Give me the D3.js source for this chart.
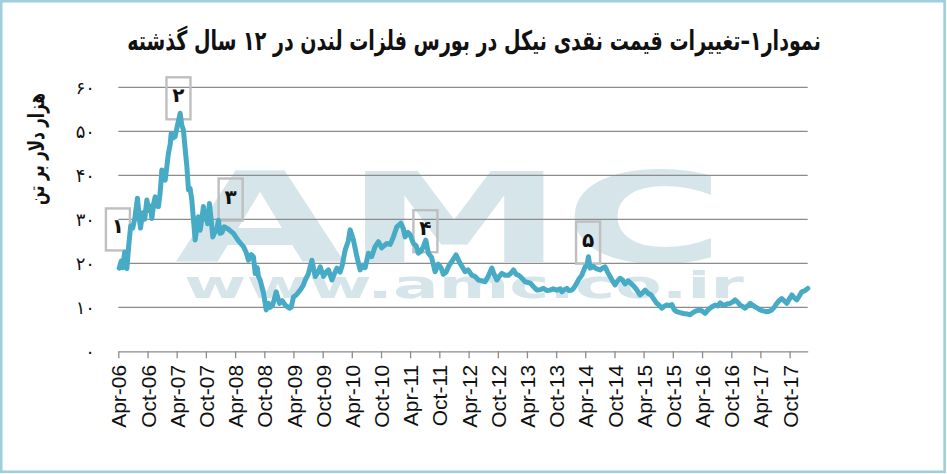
<!DOCTYPE html>
<html>
<head>
<meta charset="utf-8">
<script src="https://cdn.jsdelivr.net/npm/d3@7"></script>
<style>
  body { margin: 0; background: #fff; }
  svg { display: block; }
</style>
</head>
<body>
<script>
// nickel cash price, LME, thousand $ per tonne
var years = [
  2006.262, 2006.296, 2006.322, 2006.356, 2006.394, 2006.425, 2006.459, 2006.493, 2006.527, 2006.575,
  2006.605, 2006.627, 2006.665, 2006.699, 2006.736, 2006.767, 2006.802, 2006.822, 2006.853, 2006.879,
  2006.904, 2006.935, 2006.964, 2006.993, 2007.021, 2007.050, 2007.079, 2007.106, 2007.136, 2007.153,
  2007.187, 2007.221, 2007.255, 2007.281, 2007.307, 2007.333, 2007.363, 2007.393, 2007.422, 2007.449,
  2007.478, 2007.507, 2007.535, 2007.564, 2007.593, 2007.620, 2007.649, 2007.679, 2007.706, 2007.735,
  2007.761, 2007.778, 2007.809, 2007.838, 2007.867, 2007.898, 2007.932, 2007.963, 2007.992, 2008.026,
  2008.061, 2008.129, 2008.220, 2008.300, 2008.391, 2008.437, 2008.477, 2008.523, 2008.562, 2008.592,
  2008.626, 2008.648, 2008.677, 2008.734, 2008.780, 2008.819, 2008.848, 2008.891, 2008.951, 2009.008,
  2009.054, 2009.105, 2009.179, 2009.208, 2009.248, 2009.294, 2009.362, 2009.414, 2009.448, 2009.499,
  2009.563, 2009.619, 2009.671, 2009.705, 2009.761, 2009.808, 2009.847, 2009.905, 2009.945, 2009.991,
  2010.047, 2010.082, 2010.133, 2010.185, 2010.219, 2010.275, 2010.334, 2010.390, 2010.441, 2010.476,
  2010.532, 2010.587, 2010.647, 2010.704, 2010.758, 2010.801, 2010.847, 2010.904, 2010.960, 2011.019,
  2011.087, 2011.127, 2011.161, 2011.212, 2011.247, 2011.303, 2011.349, 2011.389, 2011.435, 2011.474,
  2011.515, 2011.560, 2011.616, 2011.675, 2011.731, 2011.777, 2011.817, 2011.863, 2011.914, 2011.966,
  2012.034, 2012.103, 2012.189, 2012.240, 2012.303, 2012.360, 2012.416, 2012.480, 2012.531, 2012.582,
  2012.646, 2012.685, 2012.732, 2012.771, 2012.817, 2012.874, 2012.930, 2012.977, 2013.016, 2013.062,
  2013.102, 2013.148, 2013.216, 2013.302, 2013.353, 2013.417, 2013.473, 2013.530, 2013.593, 2013.645,
  2013.696, 2013.759, 2013.816, 2013.845, 2013.884, 2013.931, 2013.970, 2014.016, 2014.056, 2014.102,
  2014.141, 2014.188, 2014.244, 2014.278, 2014.301, 2014.330, 2014.381, 2014.433, 2014.501, 2014.552,
  2014.587, 2014.630, 2014.672, 2014.715, 2014.758, 2014.801, 2014.844, 2014.886, 2014.929, 2014.981,
  2015.015, 2015.066, 2015.118, 2015.186, 2015.238, 2015.272, 2015.323, 2015.375, 2015.426, 2015.472,
  2015.512, 2015.558, 2015.597, 2015.644, 2015.700, 2015.734, 2015.769, 2015.815, 2015.871, 2015.928,
  2015.991, 2016.042, 2016.094, 2016.145, 2016.214, 2016.257, 2016.300, 2016.343, 2016.385, 2016.428,
  2016.471, 2016.514, 2016.557, 2016.599, 2016.642, 2016.685, 2016.728, 2016.771, 2016.813, 2016.856,
  2016.899, 2016.942, 2016.985, 2017.028, 2017.070, 2017.113, 2017.156, 2017.199, 2017.242, 2017.293,
  2017.356, 2017.396, 2017.442, 2017.482, 2017.528, 2017.567, 2017.613, 2017.653, 2017.699, 2017.739,
  2017.785, 2017.824, 2017.870, 2017.910, 2017.956, 2018.012, 2018.059
];
var prices = [
  18.9, 20.5, 19.0, 22.5, 18.8, 24.0, 28.5, 28.0, 30.0, 34.8,
  30.5, 28.0, 31.5, 30.0, 34.4, 32.0, 33.0, 30.2, 33.5, 35.1,
  33.0, 32.9, 36.0, 41.2, 40.5, 38.9, 42.0, 45.0, 47.0, 49.5,
  48.5, 48.8, 51.0, 52.5, 54.1, 51.5, 50.3, 46.0, 42.0, 36.7,
  37.0, 34.4, 30.0, 25.3, 28.0, 30.6, 27.5, 30.0, 32.9, 30.0,
  31.5, 29.0, 33.6, 30.0, 26.0, 27.0, 27.5, 29.8, 26.8, 27.0,
  28.3, 27.8, 26.8, 25.2, 23.8, 22.5, 20.7, 22.0, 21.5, 17.7,
  19.0, 17.0, 16.2, 13.2, 9.4, 10.9, 10.0, 10.5, 13.5, 10.9,
  11.5, 10.5, 9.8, 10.0, 12.4, 12.8, 13.9, 15.0, 16.2, 17.5,
  20.7, 17.0, 18.0, 19.2, 17.0, 18.0, 18.5, 16.2, 17.5, 18.9,
  18.0, 19.5, 23.0, 25.0, 27.6, 25.3, 21.5, 18.5, 19.5, 19.0,
  22.3, 21.5, 23.8, 24.9, 23.5, 24.0, 24.5, 24.3, 26.0, 28.3,
  29.1, 28.0, 26.0, 27.0, 26.5, 24.5, 24.0, 22.3, 22.8, 23.8,
  25.3, 22.3, 21.3, 18.1, 19.8, 19.0, 17.5, 18.0, 19.5, 20.5,
  21.9, 20.0, 18.1, 18.5, 17.3, 17.0, 16.2, 16.0, 15.8, 17.0,
  18.9, 17.5, 16.2, 17.0, 17.7, 17.3, 17.3, 17.8, 18.5, 17.5,
  17.3, 16.8, 15.8, 15.5, 14.8, 13.9, 14.0, 14.3, 13.8, 13.9,
  14.2, 13.9, 14.2, 13.5, 14.0, 14.3, 13.8, 13.9, 14.5, 15.5,
  16.5, 17.3, 19.2, 19.5, 21.5, 18.9, 19.3, 18.8, 18.5, 19.0,
  19.2, 18.0, 17.0, 16.0, 15.1, 16.0, 16.6, 16.2, 15.3, 16.0,
  15.6, 15.0, 14.2, 12.8, 13.4, 13.9, 13.2, 12.8, 11.8, 10.9,
  10.5, 9.8, 10.2, 10.5, 10.4, 10.6, 9.5, 9.0, 8.8, 8.6,
  8.5, 8.3, 8.8, 9.2, 9.4, 9.1, 8.6, 9.3, 9.8, 10.2,
  10.5, 10.3, 11.0, 10.6, 10.5, 10.8, 10.9, 11.2, 11.7, 11.2,
  10.5, 10.2, 9.8, 10.3, 10.9, 10.5, 10.1, 9.8, 9.4, 9.2,
  9.0, 9.1, 9.4, 10.0, 10.9, 11.5, 12.0, 11.5, 10.9, 11.8,
  12.8, 12.2, 11.7, 12.5, 13.5, 13.8, 14.3
];

var xTickLabels = ["Apr-06", "Oct-06", "Apr-07", "Oct-07", "Apr-08", "Oct-08", "Apr-09", "Oct-09",
  "Apr-10", "Oct-10", "Apr-11", "Oct-11", "Apr-12", "Oct-12", "Apr-13", "Oct-13", "Apr-14", "Oct-14",
  "Apr-15", "Oct-15", "Apr-16", "Oct-16", "Apr-17", "Oct-17"];
var yTicks = [0, 10, 20, 30, 40, 50, 60];
var yTickLabels = ["۰", "۱۰", "۲۰", "۳۰", "۴۰", "۵۰", "۶۰"];

// numbered event boxes: label, centre (year, price)
var noteLabels = ["۱", "۲", "۳", "۴", "۵"];
var noteYears = [2006.24, 2007.278, 2008.172, 2011.509, 2014.295];
var notePrices = [27.7, 57.5, 34.5, 27.3, 24.7];

var title = "نمودار۱–تغییرات قیمت نقدی نیکل در بورس فلزات لندن در ۱۲ سال گذشته";
var yTitle = "هزار دلار بر تن";

var W = 947, H = 474;
var plotLeft = 118.3, plotRight = 807.7, plotTop = 87.3, plotBottom = 351.3;
var lineColor = "#47abc6", gridColor = "#8c8c8c", markColor = "#d5e5ea";

function yearToDate(yy) {
  var yr = Math.floor(yy);
  var a = new Date(yr, 0, 1), b = new Date(yr + 1, 0, 1);
  return new Date(+a + (yy - yr) * (b - a));
}

var svg = d3.select("body").append("svg").attr("width", W).attr("height", H);

var x = d3.scaleTime()
  .domain([new Date(2006, 3, 1), new Date(2018, 0, 22)])
  .range([plotLeft, plotRight]);
var y = d3.scaleLinear().domain([0, 60]).range([plotBottom, plotTop]);

// fit text to a given width by stretching along its direction
function fitWidth(sel, cx, cy, width, rot) {
  var w = sel.node().getComputedTextLength();
  sel.attr("transform", "translate(" + cx + "," + cy + ")" + (rot ? " rotate(" + rot + ")" : "") +
    " scale(" + (width / w) + ",1)");
}

// frame
svg.append("rect")
  .attr("x", 1.2).attr("y", 1.2).attr("width", W - 3.6).attr("height", H - 3.4)
  .attr("fill", "#fff").attr("stroke", "#9dcfdf").attr("stroke-width", 2.6);

// watermark
var wm1 = svg.append("text").text("AMC")
  .attr("text-anchor", "middle")
  .style("font-family", "DejaVu Sans").style("font-weight", "bold").style("font-size", "124px")
  .attr("fill", markColor);
fitWidth(wm1, 450, 262, 550);
var wm2 = svg.append("text").text("www.amc.co.ir")
  .attr("text-anchor", "middle")
  .style("font-family", "DejaVu Sans").style("font-weight", "bold").style("font-size", "38px")
  .attr("fill", markColor);
fitWidth(wm2, 464, 298, 560);

// title
var t = svg.append("text").text(title)
  .attr("text-anchor", "middle").attr("direction", "rtl")
  .style("font-family", "DejaVu Sans").style("font-weight", "bold").style("font-size", "27px")
  .attr("fill", "#111");
fitWidth(t, 474, 50, 694);

// y title
var yt = svg.append("text").text(yTitle)
  .attr("text-anchor", "middle").attr("direction", "rtl")
  .style("font-family", "DejaVu Sans").style("font-weight", "bold").style("font-size", "22px")
  .attr("fill", "#111");
fitWidth(yt, 44, 149, 112, -90);

// grid lines
svg.append("g").selectAll("line")
  .data(yTicks.filter(function(d) { return d > 0; }))
  .enter().append("line")
  .attr("x1", plotLeft).attr("x2", plotRight)
  .attr("y1", function(d) { return y(d); }).attr("y2", function(d) { return y(d); })
  .attr("stroke", gridColor).attr("stroke-width", 1.3);

// y labels
svg.append("g").selectAll("text")
  .data(yTicks)
  .enter().append("text")
  .attr("x", 95).attr("y", function(d) { return y(d); })
  .attr("dy", "0.35em").attr("text-anchor", "end")
  .style("font-family", "DejaVu Sans").style("font-size", "18px")
  .attr("fill", "#111")
  .text(function(d, i) { return yTickLabels[i]; });

// x axis
var parseTick = d3.timeParse("%b-%y");
var tickDates = xTickLabels.map(function(s) { return parseTick(s); });
var xAxis = d3.axisBottom(x)
  .tickValues(tickDates)
  .tickSize(7)
  .tickSizeOuter(0)
  .tickFormat(function(d, i) { return xTickLabels[i]; });
var gx = svg.append("g").attr("transform", "translate(0," + plotBottom + ")").call(xAxis);
gx.select(".domain").attr("stroke", gridColor).attr("stroke-width", 1.3);
gx.selectAll(".tick line").attr("stroke", gridColor).attr("stroke-width", 1.3);
gx.selectAll(".tick text")
  .attr("transform", "rotate(-90)")
  .attr("x", -13.5).attr("y", 0).attr("dy", "0.36em")
  .attr("text-anchor", "end")
  .style("font-family", "Liberation Sans, Arial, sans-serif").style("font-size", "21px")
  .attr("fill", "#111");

// note boxes
var notes = noteLabels.map(function(l, i) {
  return { label: l, date: yearToDate(noteYears[i]), value: notePrices[i] };
});
svg.append("g").selectAll("rect")
  .data(notes)
  .enter().append("rect")
  .attr("x", function(d) { return x(d.date) - 12; })
  .attr("y", function(d) { return y(d.value) - 21; })
  .attr("width", 24).attr("height", 42)
  .attr("fill", "none").attr("stroke", "#bfbfbf").attr("stroke-width", 2.4);

// price line
var data = years.map(function(yy, i) { return { date: yearToDate(yy), value: prices[i] }; });
var line = d3.line()
  .x(function(d) { return x(d.date); })
  .y(function(d) { return y(d.value); });
svg.append("path")
  .datum(data)
  .attr("d", line)
  .attr("fill", "none")
  .attr("stroke", lineColor)
  .attr("stroke-width", 5)
  .attr("stroke-linejoin", "round")
  .attr("stroke-linecap", "round");

// note labels
svg.append("g").selectAll("text")
  .data(notes)
  .enter().append("text")
  .attr("x", function(d) { return x(d.date); })
  .attr("y", function(d) { return y(d.value) - 3; })
  .attr("dy", "0.35em").attr("text-anchor", "middle")
  .style("font-family", "DejaVu Sans").style("font-weight", "bold").style("font-size", "20px")
  .attr("fill", "#111")
  .text(function(d) { return d.label; });
</script>
</body>
</html>
